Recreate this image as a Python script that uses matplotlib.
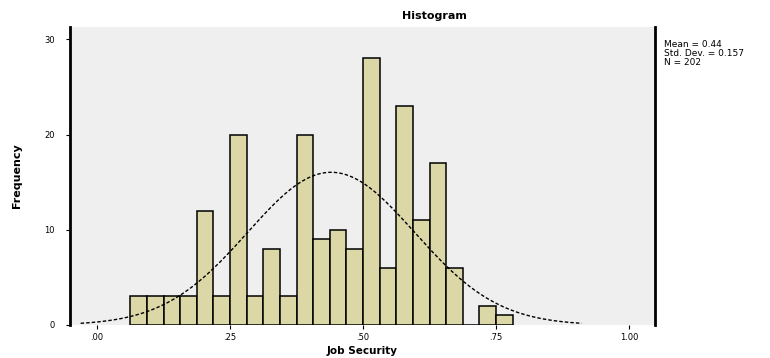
import numpy as np
import matplotlib
matplotlib.use("Agg")
import matplotlib.pyplot as plt

# Histogram bins (width 1/32) and frequencies
bin_width = 1 / 32
first_edge = 2 / 32
counts = [3, 3, 3, 3, 12, 3, 20, 3, 8, 3, 20, 9, 10, 8, 28, 6, 23, 11, 17, 6, 0, 2, 1]

# Summary statistics used for the normal curve
mean_val = 0.44
std_val = 0.157
n_val = 202

x_ticks = [0.0, 0.25, 0.5, 0.75, 1.0]
x_tick_labels = [".00", ".25", ".50", ".75", "1.00"]
y_ticks = [0, 10, 20, 30]
y_tick_labels = ["0", "10", "20", "30"]

title = "Histogram"
x_label = "Job Security"
y_label = "Frequency"

fig = plt.figure(figsize=(7.7, 3.58), dpi=100)
ax = fig.add_axes([70 / 770, 1 - 325 / 358, 585 / 770, 298 / 358])
ax.set_facecolor("#efefef")

edges = first_edge + bin_width * np.arange(len(counts))
ax.bar(edges, counts, width=bin_width, align="edge",
       color="#dcd7a6", edgecolor="black", linewidth=1.1, zorder=2)

# Normal curve scaled to counts, drawn over mean +/- 3 SD
xs = np.linspace(mean_val - 3 * std_val, mean_val + 3 * std_val, 300)
ys = n_val * bin_width / (std_val * np.sqrt(2 * np.pi)) * np.exp(-0.5 * ((xs - mean_val) / std_val) ** 2)
ax.plot(xs, ys, color="black", linestyle=(0, (2.5, 1.5)), linewidth=1.0, zorder=3)

ax.set_xlim(-0.051, 1.049)
ax.set_xticks(x_ticks)
ax.set_xticklabels(x_tick_labels, fontsize=6)
ax.set_yticks(y_ticks)
ax.set_yticklabels(y_tick_labels, fontsize=6)
ax.tick_params(axis="x", length=3, width=0.8, pad=3)
ax.tick_params(axis="y", length=3, width=0.8, pad=8)

for side in ["top", "bottom"]:
    ax.spines[side].set_visible(False)
ax.spines["left"].set_linewidth(2)
ax.spines["right"].set_linewidth(2)
ax.set_ylim(0, 31.3)

ax.set_xlabel(x_label, fontsize=7.5, fontweight="bold", labelpad=3)
ax.set_ylabel(y_label, fontsize=8, fontweight="bold", labelpad=16)

fig.text(434 / 770, 1 - 16 / 358, title, ha="center", va="center",
         fontsize=8, fontweight="bold")

fig.text(664 / 770, 1 - 40 / 358,
         f"Mean = {mean_val:.2f}\nStd. Dev. = {std_val:.3f}\nN = {n_val}",
         ha="left", va="top", fontsize=6.5, linespacing=1.0)

fig.savefig("out.png", dpi=100)
